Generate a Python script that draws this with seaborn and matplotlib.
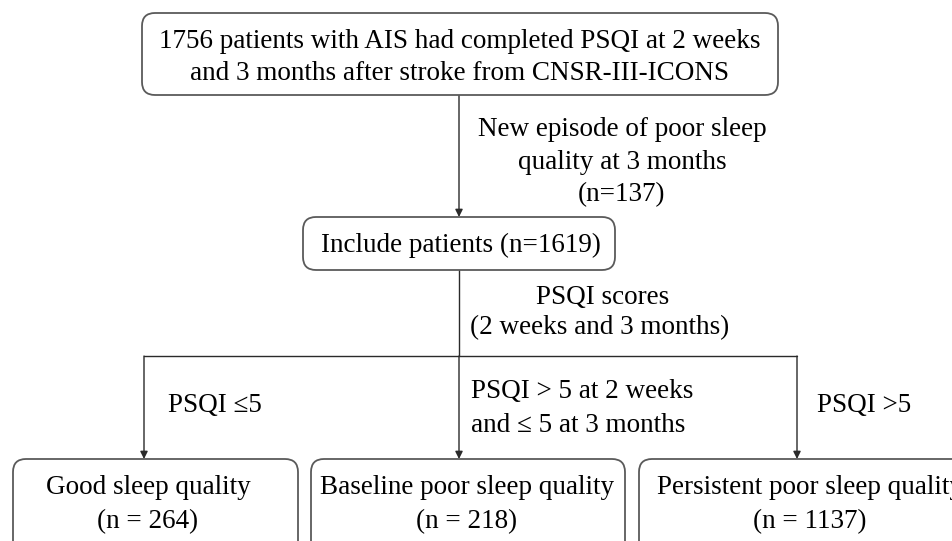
import matplotlib
matplotlib.use("Agg")
import matplotlib.pyplot as plt
from matplotlib.patches import FancyBboxPatch
import seaborn as sns

# ---- data (text content of the flow chart) ----
top_lines = ["1756 patients with AIS had completed PSQI at 2 weeks",
             "and 3 months after stroke from CNSR-III-ICONS"]
excluded_lines = ["New episode of poor sleep", "quality at 3 months", "(n=137)"]
included_label = "Include patients (n=1619)"
split_lines = ["PSQI scores", "(2 weeks and 3 months)"]
group_names = ["Good sleep quality", "Baseline poor sleep quality", "Persistent poor sleep quality"]
group_counts = [264, 218, 1137]
group_criteria = [["PSQI \u22645"],
                  ["PSQI > 5 at 2 weeks", "and \u2264 5 at 3 months"],
                  ["PSQI >5"]]

sns.set_theme(style="white")
plt.rcParams["font.family"] = ["Liberation Serif", "DejaVu Serif"]

W, H = 953, 541
fig = plt.figure(figsize=(W / 100, H / 100), dpi=100)
ax = fig.add_axes([0, 0, 1, 1])
ax.set_xlim(0, W)
ax.set_ylim(H, 0)
ax.axis("off")

FS = 19.5
EDGE = "#5a5a5a"
LINE = "#2a2a2a"


def box(x0, y0, x1, y1):
    p = FancyBboxPatch((x0, y0), x1 - x0, y1 - y0,
                       boxstyle="round,pad=0,rounding_size=13",
                       fc="white", ec=EDGE, lw=1.3, zorder=2, clip_on=False)
    ax.add_patch(p)


def txt(x, y, s, ha="center"):
    ax.text(x, y, s, ha=ha, va="center", fontsize=FS, color="black", zorder=3)


def arrow(x, y0, y1):
    ax.annotate("", xy=(x, y1), xytext=(x, y0),
                arrowprops=dict(arrowstyle="-|>", color=LINE, lw=1.0,
                                mutation_scale=11, shrinkA=0, shrinkB=0),
                zorder=1)


# top box
box(142, 13, 778, 95)
txt(460, 42, top_lines[0])
txt(460, 74, top_lines[1])

# arrow to included
arrow(459, 95, 217)
for i, s in enumerate(excluded_lines):
    txt(622, 130 + i * 32.5, s)

# included box
box(303, 217, 615, 270)
txt(461, 245, included_label)

# trunk and split
ax.plot([459, 459], [270, 356], color=LINE, lw=1.0, zorder=1)
ax.plot([144, 797], [356, 356], color=LINE, lw=1.0, zorder=1)
txt(603, 298, split_lines[0])
txt(600, 328, split_lines[1])

branch_x = [144, 459, 797]
for bx in branch_x:
    arrow(bx, 356, 459)

# criteria labels
txt(215, 406, group_criteria[0][0])
txt(471, 392, group_criteria[1][0], ha="left")
txt(471, 425, group_criteria[1][1], ha="left")
txt(864, 406, group_criteria[2][0])

# bottom boxes
boxes = [(13, 298), (311, 625), (639, 975)]
centers = [148, 467, 810]
for (x0, x1), cx, name, n in zip(boxes, centers, group_names, group_counts):
    box(x0, 459, x1, 560)
    txt(cx, 487, name)
    txt(cx, 522, f"(n = {n})")

fig.savefig("out.png", dpi=100)
